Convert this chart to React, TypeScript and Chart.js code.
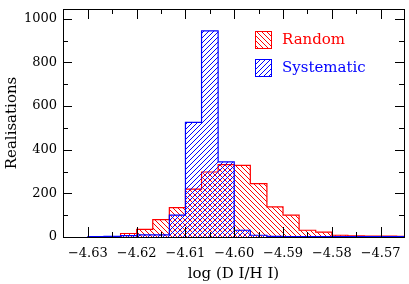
import React, { useEffect, useRef } from 'react';
import { Chart, registerables } from 'chart.js';

Chart.register(...registerables);

// Bin edges of the histograms (log D/H)
const binEdges = [
  -4.6333, -4.63, -4.6267, -4.6233, -4.62, -4.6167, -4.6133, -4.61, -4.6067, -4.6033,
  -4.6, -4.5967, -4.5933, -4.59, -4.5867, -4.5833, -4.58, -4.5767, -4.5733, -4.57,
  -4.5667, -4.5633,
];
// Counts per bin
const randomCounts = [0, 0, 1, 16, 35, 80, 135, 219, 298, 332, 328, 245, 138, 100, 31, 22, 8, 5, 4, 4, 3];
const systematicCounts = [0, 2, 3, 6, 10, 10, 100, 525, 945, 344, 31, 8, 3, 2, 2, 2, 2, 2, 2, 2, 2];

const seriesLabels = ['Random', 'Systematic'];
const seriesColors = ['rgb(255,0,0)', 'rgb(0,0,255)'];

const xMajorTicks = [-4.63, -4.62, -4.61, -4.6, -4.59, -4.58, -4.57];
const xMinorTicks = [-4.625, -4.615, -4.605, -4.595, -4.585, -4.575, -4.565];
const yMajorTicks = [0, 200, 400, 600, 800, 1000];
const yMinorTicks = [100, 300, 500, 700, 900];

const xTitle = 'log (D I/H I)';
const yTitle = 'Realisations';
const X_MIN = -4.6351;
const X_MAX = -4.5652;
const Y_MAX = 1045;

const SERIF = '"DejaVu Serif", serif';

function stepPoints(edges: number[], counts: number[]) {
  const first = counts.findIndex((c) => c > 0);
  const pts: { x: number; y: number }[] = [{ x: edges[first], y: 0 }];
  for (let i = first; i < counts.length; i++) pts.push({ x: edges[i], y: counts[i] });
  pts.push({ x: edges[counts.length], y: 0 });
  return pts;
}

function hatch(color: string, dir: 'back' | 'fwd', size: number) {
  const c = document.createElement('canvas');
  c.width = size;
  c.height = size;
  const g = c.getContext('2d')!;
  g.strokeStyle = color;
  g.lineWidth = 1;
  g.beginPath();
  for (const o of [-size, 0, size]) {
    if (dir === 'back') {
      g.moveTo(o, 0);
      g.lineTo(o + size, size);
    } else {
      g.moveTo(o, size);
      g.lineTo(o + size, 0);
    }
  }
  g.stroke();
  return g.createPattern(c, 'repeat')!;
}

export default function App() {
  const ref = useRef<HTMLCanvasElement>(null);

  useEffect(() => {
    const canvas = ref.current!;
    const redPat = hatch(seriesColors[0], 'back', 5);
    const bluePat = hatch(seriesColors[1], 'fwd', 5);
    const patterns = [redPat, bluePat];

    const framePlugin = {
      id: 'frame',
      beforeDatasetsDraw(chart: any) {
        const { ctx, chartArea: a } = chart;
        ctx.save();
        ctx.strokeStyle = '#000';
        ctx.lineWidth = 1;
        ctx.strokeRect(a.left + 0.5, a.top + 0.5, a.right - a.left, a.bottom - a.top);
        ctx.restore();
      },
      afterDatasetsDraw(chart: any) {
        const { ctx, chartArea: a, scales } = chart;
        const xs = scales.x;
        const ys = scales.y;
        ctx.save();
        ctx.strokeStyle = '#000';
        ctx.lineWidth = 1;
        ctx.beginPath();
        const yTick = (v: number, len: number) => {
          const p = Math.round(ys.getPixelForValue(v)) + 0.5;
          ctx.moveTo(a.left, p);
          ctx.lineTo(a.left + len, p);
          ctx.moveTo(a.right, p);
          ctx.lineTo(a.right - len, p);
        };
        const xTick = (v: number, len: number) => {
          if (v < X_MIN || v > X_MAX) return;
          const p = Math.round(xs.getPixelForValue(v)) + 0.5;
          ctx.moveTo(p, a.bottom);
          ctx.lineTo(p, a.bottom - len);
          ctx.moveTo(p, a.top);
          ctx.lineTo(p, a.top + len);
        };
        yMajorTicks.forEach((v) => yTick(v, 9));
        yMinorTicks.forEach((v) => yTick(v, 5));
        xMajorTicks.forEach((v) => xTick(v, 10));
        xMinorTicks.forEach((v) => xTick(v, 5));
        ctx.stroke();

        // legend
        const bx = 255;
        const rows = [31, 59];
        ctx.font = '15px ' + SERIF;
        ctx.textBaseline = 'middle';
        ctx.textAlign = 'left';
        seriesLabels.forEach((lab, i) => {
          const by = rows[i];
          ctx.fillStyle = patterns[i];
          ctx.fillRect(bx, by, 17, 17);
          ctx.strokeStyle = seriesColors[i];
          ctx.lineWidth = 1;
          ctx.strokeRect(bx + 0.5, by + 0.5, 16, 17);
          ctx.fillStyle = seriesColors[i];
          ctx.fillText(lab, 282, by + 9.5);
        });
        ctx.restore();
      },
    };

    const chart = new Chart(canvas, {
      type: 'line',
      data: {
        datasets: [
          {
            label: seriesLabels[0],
            data: stepPoints(binEdges, randomCounts),
            stepped: true,
            fill: 'origin',
            backgroundColor: redPat,
            borderColor: seriesColors[0],
            borderWidth: 1.2,
            pointRadius: 0,
            order: 2,
          },
          {
            label: seriesLabels[1],
            data: stepPoints(binEdges, systematicCounts),
            stepped: true,
            fill: 'origin',
            backgroundColor: bluePat,
            borderColor: seriesColors[1],
            borderWidth: 1.2,
            pointRadius: 0,
            order: 1,
          },
        ],
      },
      options: {
        responsive: false,
        animation: false,
        devicePixelRatio: 1,
        layout: { padding: { top: 9, right: 5, left: 0, bottom: 0 } },
        plugins: { legend: { display: false }, tooltip: { enabled: false } },
        scales: {
          x: {
            type: 'linear',
            min: X_MIN,
            max: X_MAX,
            grid: { display: false, drawTicks: false },
            border: { display: false },
            afterBuildTicks: (s: any) => {
              s.ticks = xMajorTicks.map((v) => ({ value: v }));
            },
            afterFit: (s: any) => {
              s.height = 47;
              s.paddingLeft = 0;
              s.paddingRight = 0;
            },
            ticks: {
              color: '#000',
              font: { family: SERIF, size: 13 },
              padding: 9,
              maxRotation: 0,
              autoSkip: false,
              callback: (v: any) => (v < 0 ? '\u2212' : '') + Math.abs(Number(v)).toFixed(2),
            },
            title: {
              display: true,
              text: xTitle,
              color: '#000',
              font: { family: SERIF, size: 15 },
              padding: { top: 0, bottom: 1 },
            },
          },
          y: {
            type: 'linear',
            min: 0,
            max: Y_MAX,
            grid: { display: false, drawTicks: false },
            border: { display: false },
            afterBuildTicks: (s: any) => {
              s.ticks = yMajorTicks.map((v) => ({ value: v }));
            },
            afterFit: (s: any) => {
              s.width = 63;
              s.paddingTop = 0;
              s.paddingBottom = 0;
            },
            ticks: {
              color: '#000',
              font: { family: SERIF, size: 13 },
              padding: 6,
              callback: (v: any) => String(v),
            },
            title: {
              display: true,
              text: yTitle,
              color: '#000',
              font: { family: SERIF, size: 15 },
              padding: { top: 3, bottom: 0 },
            },
          },
        },
      },
      plugins: [framePlugin],
    } as any);
    return () => chart.destroy();
  }, []);

  return (
    <div style={{ position: 'absolute', left: 0, top: 0, width: 409, height: 284, background: '#fff' }}>
      <canvas ref={ref} width={409} height={284} />
    </div>
  );
}
